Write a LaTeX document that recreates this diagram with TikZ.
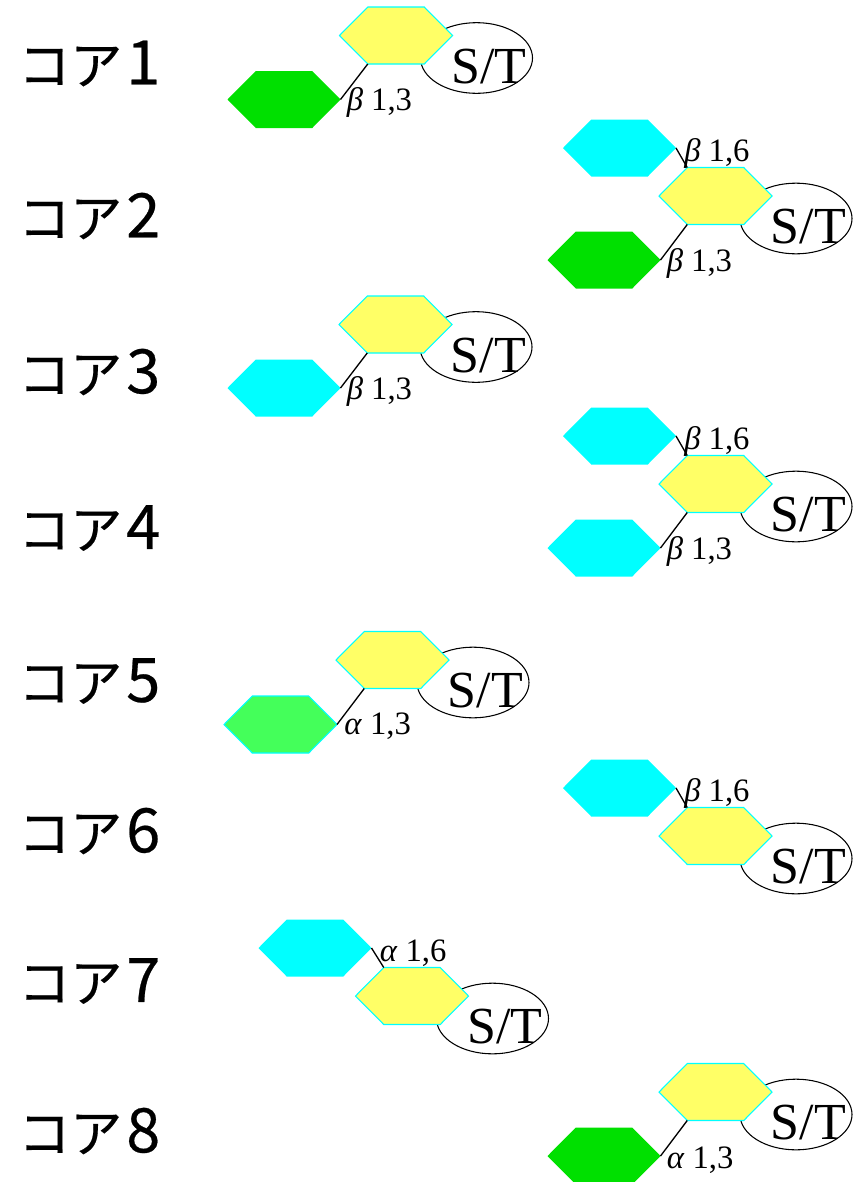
\documentclass[tikz,border=0pt]{standalone}
\usepackage{fontspec}
\setmainfont{Liberation Serif}
\newfontfamily\jpfont[FakeBold=0.4]{Noto Sans CJK JP}
\usetikzlibrary{calc,shapes.geometric}
\definecolor{hexyellow}{HTML}{FFFF66}
\definecolor{hexcyan}{HTML}{00FFFF}
\definecolor{hexgreen}{HTML}{00E000}
\definecolor{hexlgreen}{HTML}{44FF5A}
\tikzset{
  hexbox/.style={rectangle,minimum width=84.75pt,minimum height=42.75pt,inner sep=0pt,outer sep=0pt},
  yellowhex/.style={fill=hexyellow,draw=hexcyan,line width=0.8pt,line join=miter},
  cyanhex/.style={fill=hexcyan},
  greenhex/.style={fill=hexgreen},
  lgreenhex/.style={fill=hexlgreen,draw=hexcyan,line width=0.8pt},
  stellipse/.style={ellipse,draw=black,line width=0.8pt,minimum width=84pt,minimum height=53pt,inner sep=0pt},
  sttext/.style={inner sep=0pt,font=\fontsize{39}{42}\selectfont},
  link/.style={draw=black,line width=1pt},
  lbl/.style={anchor=base west,inner sep=0pt,font=\fontsize{24.5}{26}\selectfont},
  jp/.style={anchor=west,inner sep=0pt,font=\jpfont\fontsize{39}{42}\selectfont},
}
\newcommand\jpdigit[1]{\kern3pt{\fontsize{46}{48}\selectfont #1}}
\newcommand\hexnode[3]{%
  \node[hexbox] (#1) at (#2) {};
  \coordinate (#1-tl) at ($(#1.north west)!.25!(#1.north east)$);
  \coordinate (#1-tr) at ($(#1.north west)!.75!(#1.north east)$);
  \coordinate (#1-bl) at ($(#1.south west)!.25!(#1.south east)$);
  \coordinate (#1-br) at ($(#1.south west)!.75!(#1.south east)$);
  \path[#3] (#1.west) -- (#1-tl) -- (#1-tr) -- (#1.east) -- (#1-br) -- (#1-bl) -- cycle;
}
\begin{document}
\begin{tikzpicture}[x=0.75pt,y=-0.75pt]
\fill[white] (0,0) rectangle (864,1182);
\useasboundingbox (0,0) rectangle (864,1182);
% left labels
\node[jp] (k1) at (18,63.5) {コア\jpdigit{1}};
\node[jp] (k2) at (18,216) {コア\jpdigit{2}};
\node[jp] (k3) at (18,372) {コア\jpdigit{3}};
\node[jp] (k4) at (18,528) {コア\jpdigit{4}};
\node[jp] (k5) at (18,681) {コア\jpdigit{5}};
\node[jp] (k6) at (18,831) {コア\jpdigit{6}};
\node[jp] (k7) at (18,981) {コア\jpdigit{7}};
\node[jp] (k8) at (18,1131) {コア\jpdigit{8}};
% core 1
\coordinate (c1) at (396,35.5);
\node[stellipse] (e1) at ($(c1)+(80.5,22.5)$) {};
\hexnode{y1}{c1}{yellowhex}
\hexnode{g1}{$(c1)+(-112,64)$}{greenhex}
\draw[link] (g1.east) -- (y1-bl);
\node[sttext] (s1) at ($(c1)+(93,31)$) {S/T};
\node[lbl] (l1) at ($(g1.east)+(6,11)$) {\textit{β} 1,3};
% core 2
\coordinate (c2) at (715.5,196);
\node[stellipse] (e2) at ($(c2)+(80.5,22.5)$) {};
\hexnode{y2}{c2}{yellowhex}
\hexnode{u2}{$(c2)+(-96,-48)$}{cyanhex}
\hexnode{g2}{$(c2)+(-111.5,64)$}{greenhex}
\draw[link] (u2.east) -- (y2-tl);
\draw[link] (g2.east) -- (y2-bl);
\node[sttext] (s2) at ($(c2)+(93,31)$) {S/T};
\node[lbl] (m2) at ($(u2.east)+(8,13.5)$) {\textit{β} 1,6};
\node[lbl] (l2) at ($(g2.east)+(6,11)$) {\textit{β} 1,3};
% core 3
\coordinate (c3) at (395.5,324.5);
\node[stellipse] (e3) at ($(c3)+(80.5,22.5)$) {};
\hexnode{y3}{c3}{yellowhex}
\hexnode{g3}{$(c3)+(-111.5,63.5)$}{cyanhex}
\draw[link] (g3.east) -- (y3-bl);
\node[sttext] (s3) at ($(c3)+(93,31)$) {S/T};
\node[lbl] (l3) at ($(g3.east)+(6,11)$) {\textit{β} 1,3};
% core 4
\coordinate (c4) at (715.5,484);
\node[stellipse] (e4) at ($(c4)+(80.5,22.5)$) {};
\hexnode{y4}{c4}{yellowhex}
\hexnode{u4}{$(c4)+(-96,-48)$}{cyanhex}
\hexnode{g4}{$(c4)+(-111.5,64)$}{cyanhex}
\draw[link] (u4.east) -- (y4-tl);
\draw[link] (g4.east) -- (y4-bl);
\node[sttext] (s4) at ($(c4)+(93,31)$) {S/T};
\node[lbl] (m4) at ($(u4.east)+(8,13.5)$) {\textit{β} 1,6};
\node[lbl] (l4) at ($(g4.east)+(6,11)$) {\textit{β} 1,3};
% core 5
\coordinate (c5) at (392.5,660);
\node[stellipse] (e5) at ($(c5)+(80.5,22.5)$) {};
\hexnode{y5}{c5}{yellowhex}
\hexnode{g5}{$(c5)+(-112,64.5)$}{lgreenhex}
\draw[link] (g5.east) -- (y5-bl);
\node[sttext] (s5) at ($(c5)+(93,31)$) {S/T};
\node[lbl] (l5) at ($(g5.east)+(7,10)$) {\textit{α} 1,3};
% core 6
\coordinate (c6) at (715.5,836);
\node[stellipse] (e6) at ($(c6)+(80.5,22.5)$) {};
\hexnode{y6}{c6}{yellowhex}
\hexnode{u6}{$(c6)+(-96,-48)$}{cyanhex}
\draw[link] (u6.east) -- (y6-tl);
\node[sttext] (s6) at ($(c6)+(93,31)$) {S/T};
\node[lbl] (m6) at ($(u6.east)+(8,13.5)$) {\textit{β} 1,6};
% core 7
\coordinate (c7) at (412,996);
\node[stellipse] (e7) at ($(c7)+(80.5,22.5)$) {};
\hexnode{y7}{c7}{yellowhex}
\hexnode{u7}{$(c7)+(-97,-48)$}{cyanhex}
\draw[link] (u7.east) -- (y7-tl);
\node[sttext] (s7) at ($(c7)+(93,31)$) {S/T};
\node[lbl] (m7) at ($(u7.east)+(8,13.5)$) {\textit{α} 1,6};
% core 8
\coordinate (c8) at (715.5,1092);
\node[stellipse] (e8) at ($(c8)+(80.5,22.5)$) {};
\hexnode{y8}{c8}{yellowhex}
\hexnode{g8}{$(c8)+(-111.5,64)$}{greenhex}
\draw[link] (g8.east) -- (y8-bl);
\node[sttext] (s8) at ($(c8)+(93,31)$) {S/T};
\node[lbl] (l8) at ($(g8.east)+(6,12)$) {\textit{α} 1,3};
\end{tikzpicture}
\end{document}
